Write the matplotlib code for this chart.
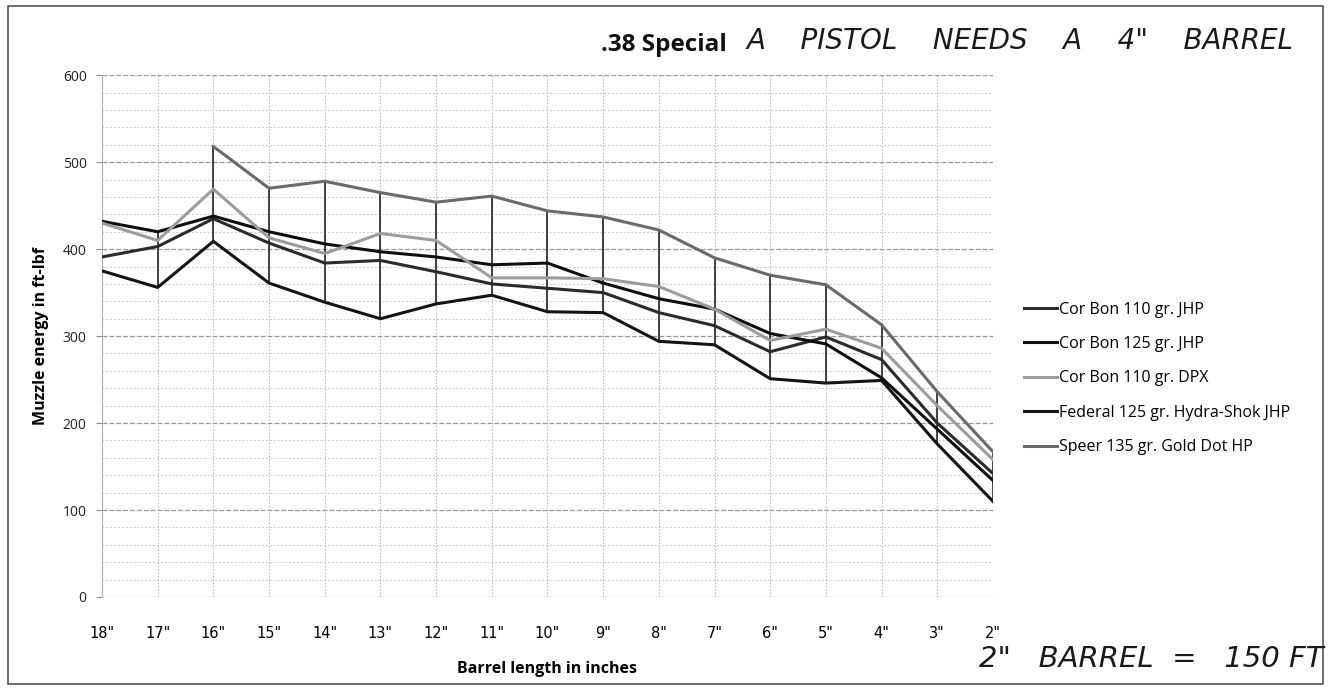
import numpy as np
import matplotlib
matplotlib.use("Agg")
import matplotlib.pyplot as plt
from matplotlib.patches import Rectangle

barrel_labels = ['18"', '17"', '16"', '15"', '14"', '13"', '12"', '11"', '10"',
                 '9"', '8"', '7"', '6"', '5"', '4"', '3"', '2"']

corbon_110_jhp = [391, 403, 435, 407, 384, 387, 374, 360, 355, 350, 327, 312, 282, 299, 273, 200, 142]
corbon_125_jhp = [432, 420, 438, 420, 406, 397, 391, 382, 384, 361, 343, 331, 303, 291, 252, 193, 134]
corbon_110_dpx = [430, 410, 469, 413, 395, 418, 410, 367, 367, 366, 357, 331, 295, 308, 286, 220, 158]
federal_125_hs = [375, 356, 409, 361, 339, 320, 337, 347, 328, 327, 294, 290, 251, 246, 249, 176, 110]
speer_135_gd = [np.nan, np.nan, 518, 470, 478, 465, 454, 461, 444, 437, 422, 390, 370, 359, 313, 236, 167]

series_names = ["Cor Bon 110 gr. JHP", "Cor Bon 125 gr. JHP", "Cor Bon 110 gr. DPX",
                "Federal 125 gr. Hydra-Shok JHP", "Speer 135 gr. Gold Dot HP"]
series_values = [corbon_110_jhp, corbon_125_jhp, corbon_110_dpx, federal_125_hs, speer_135_gd]
series_colors = ["#2b2b2b", "#0e0e0e", "#9c9c9c", "#141414", "#6a6a6a"]

fig = plt.figure(figsize=(13.28, 6.9), dpi=100)
fig.patch.set_facecolor("white")
ax = fig.add_axes([0.0768, 0.1348, 0.6709, 0.7562])

x = np.arange(len(barrel_labels))
data = np.array(series_values, dtype=float)

# high-low lines
hi = np.nanmax(data, axis=0)
lo = np.nanmin(data, axis=0)
ax.vlines(x, lo, hi, colors="#111111", linewidth=1.1, zorder=2)

for name, vals, col in zip(series_names, series_values, series_colors):
    ax.plot(x, vals, color=col, linewidth=2.2, label=name, zorder=3,
            solid_joinstyle="miter")

ax.set_xlim(0, len(barrel_labels) - 1)
ax.set_ylim(0, 600)
ax.set_yticks(np.arange(0, 601, 100))
ax.set_yticks(np.arange(0, 601, 20), minor=True)
ax.set_xticks(x)
ax.set_xticklabels(barrel_labels, fontfamily="Liberation Sans Narrow", fontsize=10.5)
for lab in ax.get_yticklabels():
    lab.set_fontfamily("Open Sans")
    lab.set_fontsize(10)
    lab.set_color("#222222")

ax.grid(axis="y", which="major", color="#9a9a9a", linewidth=0.9, linestyle=(0, (4, 1.5)))
ax.grid(axis="y", which="minor", color="#c8c8c8", linewidth=0.7, linestyle=(0, (2, 2)))
ax.grid(axis="x", which="major", color="#bdbdbd", linewidth=0.8, linestyle=(0, (1.5, 1.5)))
ax.set_axisbelow(True)

for s in ["top", "right", "bottom"]:
    ax.spines[s].set_visible(False)
ax.spines["left"].set_color("#b0b0b0")
ax.tick_params(axis="y", which="major", length=4, color="#909090", pad=7)
ax.tick_params(axis="y", which="minor", length=0)
ax.tick_params(axis="x", length=0, pad=21)

ax.set_ylabel("Muzzle energy in ft-lbf", fontfamily="Open Sans", fontweight="bold",
              fontsize=11.5, labelpad=10)
ax.set_xlabel("Barrel length in inches", fontfamily="Open Sans", fontweight="bold",
              fontsize=11.5, labelpad=14)

fig.text(0.5, 0.935, ".38 Special", fontfamily="Open Sans", fontweight="bold",
         fontsize=17.5, ha="center", va="center", color="#111111")
fig.text(0.562, 0.94, 'A    PISTOL    NEEDS    A    4"    BARREL', fontfamily="DejaVu Sans",
         fontstyle="oblique", fontsize=20, ha="left", va="center", color="#1a1a1a")
fig.text(0.737, 0.045, '2"   BARREL  =   150 FT', fontfamily="DejaVu Sans",
         fontstyle="oblique", fontsize=21, ha="left", va="center", color="#1a1a1a")

leg = fig.legend(loc="upper left", bbox_to_anchor=(0.766, 0.572), frameon=False,
                 prop={"family": "Open Sans", "size": 11.5}, handlelength=2.1,
                 handletextpad=0.1, labelspacing=1.15, borderaxespad=0)

fig.patches.append(Rectangle((0.006, 0.008), 0.99, 0.984, transform=fig.transFigure,
                             fill=False, edgecolor="#555555", linewidth=1.2))

fig.savefig("out.png", dpi=100, facecolor="white")
